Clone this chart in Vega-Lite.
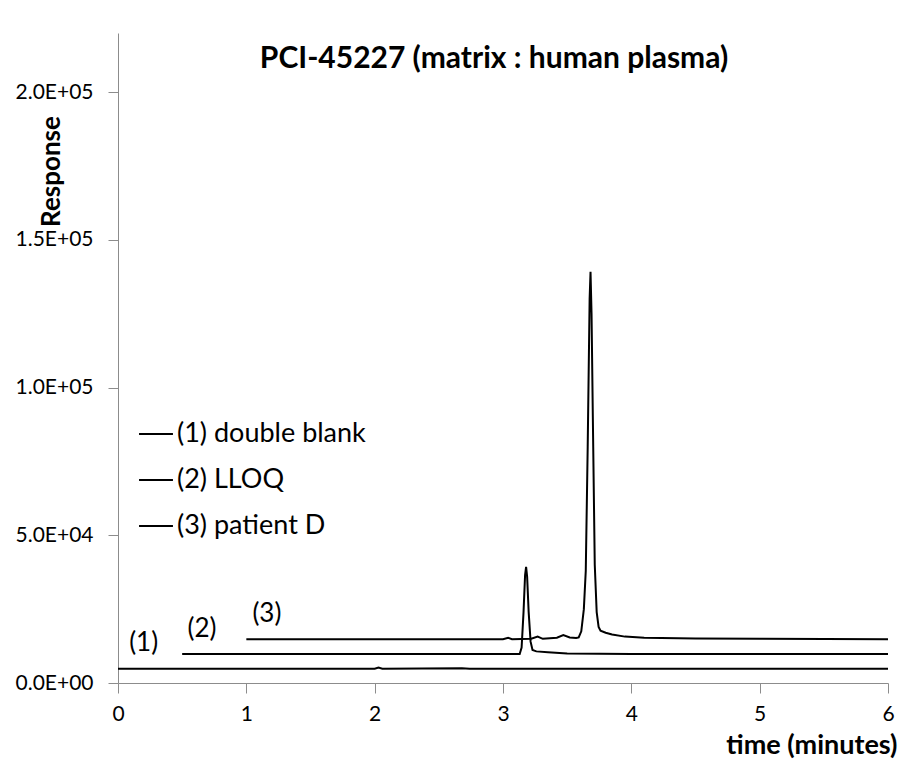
{
  "$schema": "https://vega.github.io/schema/vega-lite/v6.json",
  "width": 770,
  "height": 650,
  "autosize": {"type": "none"},
  "padding": {"left": 118, "top": 33, "right": 17, "bottom": 82},
  "background": "white",
  "config": {"view": {"stroke": null}, "font": "Lato"},
  "title": {
    "text": "PCI-45227 (matrix : human plasma)",
    "fontSize": 30,
    "fontWeight": "bold",
    "font": "Lato",
    "color": "#000000",
    "anchor": "middle",
    "baseline": "middle",
    "dx": -9,
    "dy": 60
  },
  "layer": [
    {
      "data": {
        "values": [
          {"series": "(1) double blank", "time": 0, "response": 4800},
          {"series": "(1) double blank", "time": 1.0, "response": 4800},
          {"series": "(1) double blank", "time": 2.0, "response": 4800},
          {"series": "(1) double blank", "time": 2.03, "response": 5200},
          {"series": "(1) double blank", "time": 2.06, "response": 4800},
          {"series": "(1) double blank", "time": 2.68, "response": 5000},
          {"series": "(1) double blank", "time": 2.74, "response": 4800},
          {"series": "(1) double blank", "time": 6, "response": 4800},
          {"series": "(2) LLOQ", "time": 0.5, "response": 9800},
          {"series": "(2) LLOQ", "time": 3.13, "response": 9800},
          {"series": "(2) LLOQ", "time": 3.145, "response": 12000},
          {"series": "(2) LLOQ", "time": 3.16, "response": 24000},
          {"series": "(2) LLOQ", "time": 3.172, "response": 36500},
          {"series": "(2) LLOQ", "time": 3.18, "response": 39300},
          {"series": "(2) LLOQ", "time": 3.188, "response": 36000},
          {"series": "(2) LLOQ", "time": 3.2, "response": 24000},
          {"series": "(2) LLOQ", "time": 3.215, "response": 14000},
          {"series": "(2) LLOQ", "time": 3.23, "response": 11200},
          {"series": "(2) LLOQ", "time": 3.26, "response": 10700},
          {"series": "(2) LLOQ", "time": 3.35, "response": 10400},
          {"series": "(2) LLOQ", "time": 3.5, "response": 10000},
          {"series": "(2) LLOQ", "time": 4.0, "response": 9850},
          {"series": "(2) LLOQ", "time": 6, "response": 9800},
          {"series": "(3) patient D", "time": 1.0, "response": 14850},
          {"series": "(3) patient D", "time": 3.0, "response": 14850},
          {"series": "(3) patient D", "time": 3.04, "response": 15300},
          {"series": "(3) patient D", "time": 3.07, "response": 14850},
          {"series": "(3) patient D", "time": 3.22, "response": 15000},
          {"series": "(3) patient D", "time": 3.27, "response": 15700},
          {"series": "(3) patient D", "time": 3.31, "response": 14950},
          {"series": "(3) patient D", "time": 3.42, "response": 15300},
          {"series": "(3) patient D", "time": 3.47, "response": 16200},
          {"series": "(3) patient D", "time": 3.52, "response": 15400},
          {"series": "(3) patient D", "time": 3.57, "response": 15200},
          {"series": "(3) patient D", "time": 3.59, "response": 15400},
          {"series": "(3) patient D", "time": 3.61, "response": 17500},
          {"series": "(3) patient D", "time": 3.63, "response": 25000},
          {"series": "(3) patient D", "time": 3.645, "response": 38000},
          {"series": "(3) patient D", "time": 3.66, "response": 80000},
          {"series": "(3) patient D", "time": 3.675, "response": 130000},
          {"series": "(3) patient D", "time": 3.682, "response": 139200},
          {"series": "(3) patient D", "time": 3.69, "response": 125000},
          {"series": "(3) patient D", "time": 3.7, "response": 90000},
          {"series": "(3) patient D", "time": 3.715, "response": 40000},
          {"series": "(3) patient D", "time": 3.73, "response": 24000},
          {"series": "(3) patient D", "time": 3.745, "response": 19000},
          {"series": "(3) patient D", "time": 3.76, "response": 17700},
          {"series": "(3) patient D", "time": 3.8, "response": 17000},
          {"series": "(3) patient D", "time": 3.85, "response": 16400},
          {"series": "(3) patient D", "time": 3.95, "response": 15700},
          {"series": "(3) patient D", "time": 4.1, "response": 15300},
          {"series": "(3) patient D", "time": 4.5, "response": 15100},
          {"series": "(3) patient D", "time": 5.0, "response": 14950},
          {"series": "(3) patient D", "time": 6, "response": 14850}
        ]
      },
      "mark": {"type": "line", "strokeWidth": 2},
      "encoding": {
        "x": {
          "field": "time",
          "type": "quantitative",
          "scale": {"domain": [0, 6], "nice": false, "zero": false},
          "axis": {
            "values": [0, 1, 2, 3, 4, 5, 6],
            "format": "d",
            "grid": false,
            "title": "time (minutes)",
            "titleFontSize": 27,
            "titleFontWeight": "bold",
            "titleColor": "#000000",
            "titleAnchor": "end",
            "titleAlign": "right",
            "titleBaseline": "alphabetic",
            "titleX": 779,
            "titleY": 70,
            "labelFontSize": 21,
            "labelColor": "#000000",
            "labelPadding": 10,
            "labelFlush": false,
            "tickSize": 10,
            "tickColor": "#8c8c8c",
            "domainColor": "#8c8c8c"
          }
        },
        "y": {
          "field": "response",
          "type": "quantitative",
          "scale": {"domain": [0, 220000], "nice": false},
          "axis": {
            "values": [0, 50000, 100000, 150000, 200000],
            "labelExpr": "replace(format(datum.value, '.1e'), 'e+', 'E+0')",
            "grid": false,
            "title": "Response",
            "titleFontSize": 26,
            "titleFontWeight": "bold",
            "titleColor": "#000000",
            "titleAngle": -90,
            "titleAlign": "center",
            "titleBaseline": "middle",
            "titleX": -67,
            "titleY": 138,
            "labelFontSize": 21,
            "labelColor": "#000000",
            "labelPadding": 15,
            "tickSize": 10,
            "tickColor": "#8c8c8c",
            "domainColor": "#8c8c8c"
          }
        },
        "color": {
          "field": "series",
          "type": "nominal",
          "scale": {
            "domain": ["(1) double blank", "(2) LLOQ", "(3) patient D"],
            "range": ["#000000", "#000000", "#000000"]
          },
          "legend": {
            "orient": "none",
            "legendX": 20,
            "legendY": 383,
            "title": null,
            "symbolType": "stroke",
            "symbolSize": 1150,
            "symbolStrokeWidth": 2,
            "labelFontSize": 27,
            "labelLimit": 400,
            "labelColor": "#000000",
            "labelOffset": 3,
            "rowPadding": 15
          }
        }
      }
    },
    {
      "data": {
        "values": [
          {"label": "(1)", "time": 0.2, "response": 13500},
          {"label": "(2)", "time": 0.655, "response": 18300},
          {"label": "(3)", "time": 1.16, "response": 23200}
        ]
      },
      "mark": {"type": "text", "fontSize": 26, "align": "center", "baseline": "middle", "color": "#000000"},
      "encoding": {
        "x": {"field": "time", "type": "quantitative"},
        "y": {"field": "response", "type": "quantitative"},
        "text": {"field": "label"}
      }
    }
  ]
}
